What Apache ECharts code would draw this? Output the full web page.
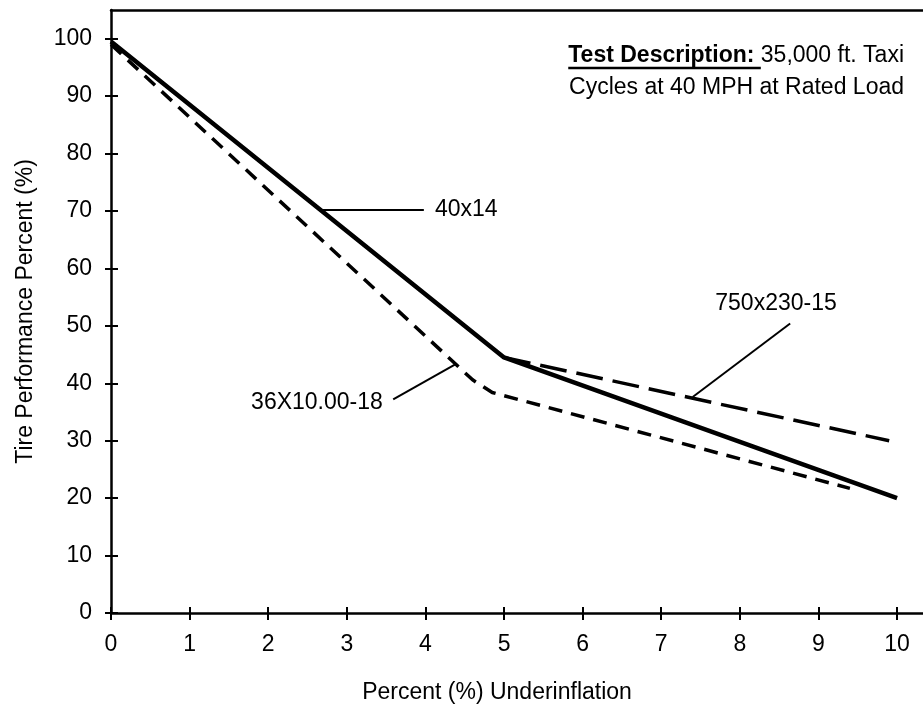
<!DOCTYPE html>
<html>
<head>
<meta charset="utf-8">
<script src="https://cdn.jsdelivr.net/npm/echarts@6/dist/echarts.min.js"></script>
<style>
  html, body { margin: 0; padding: 0; background: #fff; }
  #chart { width: 923px; height: 709px; }
</style>
</head>
<body>
<div id="chart"></div>
<script>
// axis ticks
const xTicks = [0, 1, 2, 3, 4, 5, 6, 7, 8, 9, 10];
const yTicks = [0, 10, 20, 30, 40, 50, 60, 70, 80, 90, 100];

// curves: [underinflation %, performance %]
const tire40x14 = [[0, 99.5], [5, 44.5], [10, 20]];
const tire750x230 = [[5, 44.5], [9.9, 30]];
const tire36x10 = [[0, 99], [4.6, 40.6], [4.85, 38.4], [9.4, 21.7]];

// leader lines and their labels, in data units
const leader40x14 = [[2.68, 70.3], [3.98, 70.3]];
const leader750 = [[7.4, 37.6], [8.64, 50.4]];
const leader36 = [[3.59, 37.2], [4.38, 43.3]];
const labelNames = ['40x14', '750x230-15', '36X10.00-18'];
const labelAt = [[4.52, 70.3], [8.46, 53.9], [2.62, 36.6]];

const FONT = 'Liberation Sans';
const FS = 23;

const chart = echarts.init(document.getElementById('chart'), null, { renderer: 'canvas' });

function baseX(extra) {
  return Object.assign({
    type: 'value', min: 0, max: 10.33,
    splitLine: { show: false },
    axisLine: { show: false },
    axisTick: { show: false },
    axisLabel: { show: false }
  }, extra);
}
function baseY(extra) {
  return Object.assign({
    type: 'value', min: 0, max: 105,
    splitLine: { show: false },
    axisLine: { show: false },
    axisTick: { show: false },
    axisLabel: { show: false }
  }, extra);
}

function leaderLine(pts) {
  return [{ coord: pts[0] }, { coord: pts[1] }];
}

// measure underline for the bold part of the description
const ctx = document.createElement('canvas').getContext('2d');
ctx.font = 'bold ' + FS + 'px "' + FONT + '"';
const boldW = ctx.measureText('Test Description: ').width;
ctx.font = FS + 'px "' + FONT + '"';
const restW = ctx.measureText('35,000 ft. Taxi').width;
const textRight = 904;
const ulLeft = textRight - restW - boldW;

const option = {
  animation: false,
  backgroundColor: '#fff',
  grid: { left: 111, top: 10, right: 0, bottom: 96 },
  xAxis: [
    baseX({
      position: 'bottom',
      name: 'Percent (%) Underinflation',
      nameLocation: 'middle',
      nameGap: 68,
      nameTextStyle: { fontFamily: FONT, fontSize: FS, color: '#000', padding: [0, 40, 0, 0] },
      axisLine: { show: true, onZero: false, lineStyle: { color: '#000', width: 2.5 } },
      axisTick: { show: true, length: 7, lineStyle: { color: '#000', width: 2 }, customValues: xTicks },
      axisLabel: { show: true, margin: 20, fontFamily: FONT, fontSize: FS, color: '#000', customValues: xTicks }
    }),
    baseX({
      position: 'top',
      axisLine: { show: true, onZero: false, lineStyle: { color: '#000', width: 2.5 } }
    }),
    baseX({
      position: 'bottom',
      axisLine: { show: false, onZero: false },
      axisTick: { show: true, inside: true, length: 6, lineStyle: { color: '#000', width: 2 }, customValues: xTicks }
    })
  ],
  yAxis: [
    baseY({
      position: 'left',
      name: 'Tire Performance Percent (%)',
      nameLocation: 'middle',
      nameGap: 74,
      nameTextStyle: { fontFamily: FONT, fontSize: FS, color: '#000' },
      axisLine: { show: true, onZero: false, lineStyle: { color: '#000', width: 2.5 } },
      axisTick: { show: true, length: 6, lineStyle: { color: '#000', width: 2 }, customValues: yTicks },
      axisLabel: { show: true, margin: 19, fontFamily: FONT, fontSize: FS, color: '#000', customValues: yTicks }
    }),
    baseY({
      position: 'left',
      axisLine: { show: false, onZero: false },
      axisTick: { show: true, inside: true, length: 7, lineStyle: { color: '#000', width: 2 }, customValues: yTicks }
    })
  ],
  series: [
    {
      name: '36X10.00-18',
      type: 'line',
      data: tire36x10,
      symbol: 'none',
      lineStyle: { color: '#000', width: 3.5, type: [14, 9], cap: 'butt' },
      markLine: {
        silent: true, symbol: 'none', label: { show: false },
        lineStyle: { color: '#000', width: 2, type: 'solid' },
        data: [leaderLine(leader36)]
      }
    },
    {
      name: '750x230-15',
      type: 'line',
      data: tire750x230,
      symbol: 'none',
      lineStyle: { color: '#000', width: 3.5, type: [27, 10], cap: 'butt' },
      markLine: {
        silent: true, symbol: 'none', label: { show: false },
        lineStyle: { color: '#000', width: 2, type: 'solid' },
        data: [leaderLine(leader750)]
      }
    },
    {
      name: '40x14',
      type: 'line',
      data: tire40x14,
      symbol: 'none',
      lineStyle: { color: '#000', width: 4.5 },
      markLine: {
        silent: true, symbol: 'none', label: { show: false },
        lineStyle: { color: '#000', width: 2, type: 'solid' },
        data: [leaderLine(leader40x14)]
      },
      markPoint: {
        silent: true,
        symbol: 'circle',
        symbolSize: 0,
        label: {
          show: true, position: 'inside', color: '#000',
          fontFamily: FONT, fontSize: FS,
          formatter: p => p.name
        },
        data: labelNames.map((n, i) => ({ name: n, coord: labelAt[i] }))
      }
    }
  ],
  graphic: [
    {
      type: 'text',
      x: textRight, y: 56,
      style: {
        text: '{b|Test Description:} 35,000 ft. Taxi',
        align: 'right', verticalAlign: 'middle',
        font: FS + 'px "' + FONT + '"',
        fill: '#000',
        rich: {
          b: { fontWeight: 'bold', fontFamily: FONT, fontSize: FS, fill: '#000' }
        }
      }
    },
    {
      type: 'text',
      x: textRight, y: 88,
      style: {
        text: 'Cycles at 40 MPH at Rated Load',
        align: 'right', verticalAlign: 'middle',
        font: FS + 'px "' + FONT + '"',
        fill: '#000'
      }
    },
    {
      type: 'line',
      shape: { x1: ulLeft, y1: 68, x2: ulLeft + boldW, y2: 68 },
      style: { stroke: '#000', lineWidth: 2.5 }
    }
  ]
};

chart.setOption(option);
</script>
</body>
</html>
